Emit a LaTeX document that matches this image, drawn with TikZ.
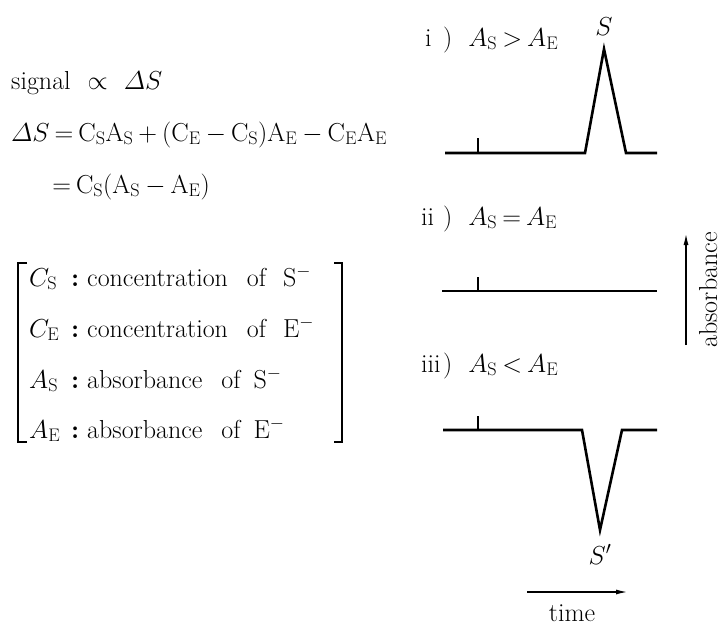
\RequirePackage{fix-cm}
\documentclass[tikz,border=0pt]{standalone}
\usepackage{fontspec}
\usetikzlibrary{arrows.meta}
\newcommand\tsop[1]{{\mkern3.5mu#1\mkern3.5mu}}
\newcommand\dS{\mathnormal{\Delta}S}
\begin{document}
\begin{tikzpicture}[x=1pt,y=-1pt,
  txt/.style={font=\fontsize{26}{30}\selectfont, inner sep=0pt, anchor=base west},
  lbl/.style={font=\fontsize{26}{30}\selectfont, inner sep=0pt, anchor=base},
  trace/.style={line width=2.6pt, line join=miter, line cap=butt},
  ticker/.style={line width=1.6pt},
  brk/.style={line width=1.6pt},
  axis/.style={line width=1.6pt, -{Latex[length=12pt,width=5pt]}}]
\useasboundingbox (0,0) rectangle (722,626);

% left column
\node[txt] (sig) at (11,89) {signal\hspace{17pt}$\propto$\hspace{16pt}$\dS$};
\node[txt] (eqa) at (11,141) {$\dS\tsop{=}\mathrm{C_SA_S}\tsop{+}(\mathrm{C_E}\tsop{-}\mathrm{C_S})\mathrm{A_E}\tsop{-}\mathrm{C_EA_E}$};
\node[txt] (eqb) at (47,193) {$\tsop{=}\mathrm{C_S}(\mathrm{A_S}\tsop{-}\mathrm{A_E})$};

\node[txt] (d1) at (29,286) {\makebox[42pt][l]{$C_{\mathrm S}$}\makebox[16pt][l]{\textbf{:}}concentration\hspace{19pt}of\hspace{17pt}S$^-$};
\node[txt] (d2) at (29,337) {\makebox[42pt][l]{$C_{\mathrm E}$}\makebox[16pt][l]{\textbf{:}}concentration\hspace{19pt}of\hspace{17pt}E$^-$};
\node[txt] (d3) at (29,388) {\makebox[42pt][l]{$A_{\mathrm S}$}\makebox[16pt][l]{\textbf{:}}absorbance\hspace{19pt}of\hspace{13pt}S$^-$};
\node[txt] (d4) at (29,438) {\makebox[42pt][l]{$A_{\mathrm E}$}\makebox[16pt][l]{\textbf{:}}absorbance\hspace{19pt}of\hspace{13pt}E$^-$};

\coordinate (bl1) at (27,263); \coordinate (bl2) at (18,263);
\coordinate (bl3) at (18,442); \coordinate (bl4) at (27,442);
\coordinate (br1) at (334,263); \coordinate (br2) at (342,263);
\coordinate (br3) at (342,442); \coordinate (br4) at (334,442);
\draw[brk] (bl1) -- (bl2) -- (bl3) -- (bl4);
\draw[brk] (br1) -- (br2) -- (br3) -- (br4);

% panel i
\node[txt] (li) at (425,46) {\makebox[18pt][l]{i})\hspace{16pt}$A_{\mathrm S}\tsop{>}A_{\mathrm E}$};
\node[lbl] (S) at (604,36) {$S$};
\coordinate (a0) at (445,153); \coordinate (a1) at (585,153);
\coordinate (a2) at (604,49);  \coordinate (a3) at (626,153);
\coordinate (a4) at (657,153);
\draw[trace] (a0) -- (a1) -- (a2) -- (a3) -- (a4);
\coordinate (at0) at (478,153); \coordinate (at1) at (478,138);
\draw[ticker] (at0) -- (at1);

% panel ii
\node[txt] (lii) at (421,225) {\makebox[22pt][l]{ii})\hspace{16pt}$A_{\mathrm S}\tsop{=}A_{\mathrm E}$};
\coordinate (b0) at (442,291); \coordinate (b1) at (657,291);
\draw[trace] (b0) -- (b1);
\coordinate (bt0) at (478,291); \coordinate (bt1) at (478,277);
\draw[ticker] (bt0) -- (bt1);

% panel iii
\node[txt] (liii) at (421,372) {\makebox[22pt][l]{iii})\hspace{16pt}$A_{\mathrm S}\tsop{<}A_{\mathrm E}$};
\coordinate (c0) at (443,430); \coordinate (c1) at (582,430);
\coordinate (c2) at (600,530); \coordinate (c3) at (622,430);
\coordinate (c4) at (657,430);
\draw[trace] (c0) -- (c1) -- (c2) -- (c3) -- (c4);
\coordinate (ct0) at (478,430); \coordinate (ct1) at (478,416);
\draw[ticker] (ct0) -- (ct1);
\node[lbl] (Sp) at (600,564) {$S'$};

% axes
\coordinate (ta) at (527,592); \coordinate (tb) at (628,592);
\draw[axis] (ta) -- (tb);
\node[lbl] (time) at (572,621) {time};
\coordinate (aa) at (686,345); \coordinate (ab) at (686,233);
\draw[axis] (aa) -- (ab);
\node[lbl, rotate=90] (absb) at (717,290) {absorbance};
\end{tikzpicture}
\end{document}
